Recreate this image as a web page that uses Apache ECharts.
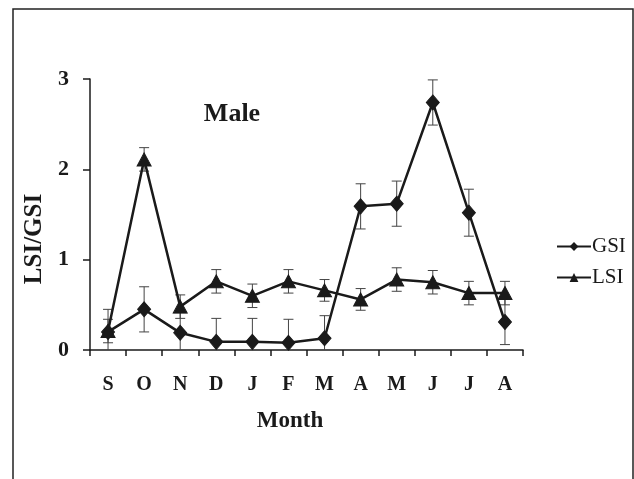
<!DOCTYPE html>
<html><head><meta charset="utf-8">
<script src="https://cdn.jsdelivr.net/npm/echarts@6/dist/echarts.min.js"></script>
<style>html,body{margin:0;padding:0;background:#fff}#c{width:634px;height:479px}</style>
</head><body><div id="c"></div>
<script>
const months = ['S','O','N','D','J','F','M','A','M','J','J','A'];
const gsi = [0.20,0.45,0.19,0.09,0.09,0.08,0.13,1.59,1.62,2.74,1.52,0.31];
const gsiErr = [0.25,0.25,0.25,0.26,0.26,0.26,0.25,0.25,0.25,0.25,0.26,0.25];
const lsi = [0.21,2.11,0.48,0.76,0.60,0.76,0.66,0.56,0.78,0.75,0.63,0.63];
const lsiErr = [0.13,0.13,0.13,0.13,0.13,0.13,0.12,0.12,0.13,0.13,0.13,0.13];
const yTicks = [0,1,2,3];

const serif = '"Liberation Serif","DejaVu Serif",serif';
const ink = '#1a1a1a';

function errSeries(vals, errs, name){
  return {
    type:'custom', name:name+'-err', silent:true, z:1,
    data: vals.map((v,i)=>[i, v-errs[i], v+errs[i]]),
    renderItem:function(params, api){
      const x = api.value(0);
      const lo = api.coord([x, Math.max(0, api.value(1))]);
      const hi = api.coord([x, api.value(2)]);
      const showLowCap = api.value(1) >= 0;
      const w = 5;
      const children = [
        {type:'line', shape:{x1:lo[0],y1:lo[1],x2:hi[0],y2:hi[1]}, style:{stroke:'#444',lineWidth:1}},
        {type:'line', shape:{x1:hi[0]-w,y1:hi[1],x2:hi[0]+w,y2:hi[1]}, style:{stroke:'#444',lineWidth:1}}
      ];
      if (showLowCap) children.push({type:'line', shape:{x1:lo[0]-w,y1:lo[1],x2:lo[0]+w,y2:lo[1]}, style:{stroke:'#444',lineWidth:1}});
      return {type:'group', children};
    }
  };
}

const chart = echarts.init(document.getElementById('c'), null, {renderer:'canvas'});
chart.setOption({
  animation:false,
  backgroundColor:'#fff',
  graphic:[
    {type:'rect', shape:{x:13,y:9,width:620,height:490}, style:{fill:'none',stroke:'#222',lineWidth:1.5}, z:-1},
    {type:'text', x:232, y:114, style:{text:'Male', font:'bold 26px '+serif, fill:ink, align:'center', verticalAlign:'middle'}},
    {type:'text', x:290, y:421, style:{text:'Month', font:'bold 23px '+serif, fill:ink, align:'center', verticalAlign:'middle'}},
    {type:'text', x:35, y:239, rotation:Math.PI/2, style:{text:'LSI/GSI', font:'bold 25px '+serif, fill:ink, align:'center', verticalAlign:'middle'}}
  ],
  grid:{left:90, right:111, top:79, bottom:129},
  legend:{
    orient:'vertical', left:551, top:231, itemGap:10, itemWidth:34, itemHeight:11,
    data:['GSI','LSI'],
    textStyle:{fontFamily:serif, fontSize:21, color:ink, padding:[0,0,0,-4]}
  },
  xAxis:{
    type:'category', data:months, boundaryGap:true,
    axisLine:{lineStyle:{color:ink, width:1.5}},
    axisTick:{show:true, inside:false, length:6, alignWithLabel:false, lineStyle:{color:ink, width:1.5}},
    axisLabel:{fontFamily:serif, fontWeight:'bold', fontSize:20, color:ink, margin:25}
  },
  yAxis:{
    type:'value', min:yTicks[0], max:yTicks[yTicks.length-1], interval:1,
    axisLine:{show:true, lineStyle:{color:ink, width:1.5}},
    axisTick:{show:true, inside:false, length:7, lineStyle:{color:ink, width:1.5}},
    splitLine:{show:false},
    axisLabel:{fontFamily:serif, fontWeight:'bold', fontSize:22, color:ink, margin:21}
  },
  series:[
    errSeries(gsi, gsiErr, 'GSI'),
    errSeries(lsi, lsiErr, 'LSI'),
    {type:'line', name:'GSI', data:gsi, z:3, symbol:'diamond', symbolSize:[13,15],
     lineStyle:{color:ink, width:2.5}, itemStyle:{color:ink, borderColor:ink}},
    {type:'line', name:'LSI', data:lsi, z:3, symbol:'triangle', symbolSize:[14,13],
     lineStyle:{color:ink, width:2.5}, itemStyle:{color:ink, borderColor:ink}}
  ]
});
</script></body></html>
